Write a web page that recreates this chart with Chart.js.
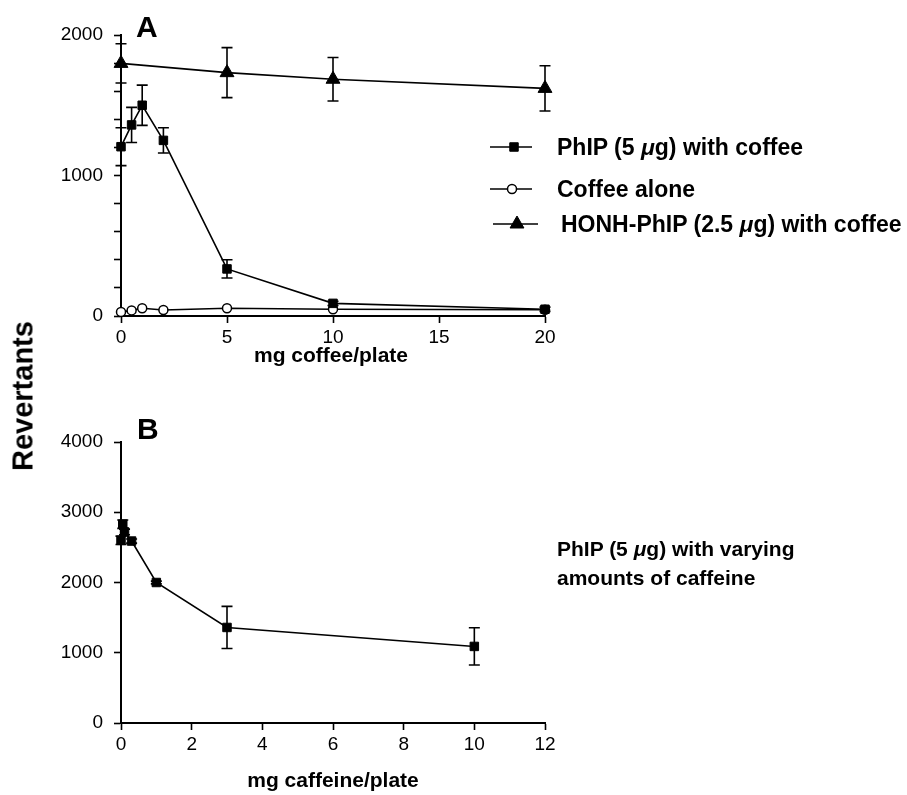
<!DOCTYPE html>
<html><head><meta charset="utf-8">
<script src="https://cdn.jsdelivr.net/npm/chart.js@4.4.0/dist/chart.umd.min.js"></script>
<style>
html,body{margin:0;padding:0;background:#fff;}
#wrap{position:relative;width:907px;height:795px;overflow:hidden;font-family:"Liberation Sans",Arial,Helvetica,sans-serif;color:#000;background:#fff;}
canvas{position:absolute;left:0;}
.t{position:absolute;font-weight:bold;white-space:nowrap;line-height:1;}
.c{transform:translate(-50%,-50%);}
</style></head><body>
<div id="wrap">
  <canvas id="cA" width="907" height="360" style="top:0;width:907px;height:360px"></canvas>
  <canvas id="cB" width="907" height="380" style="top:400px;width:907px;height:380px"></canvas>
  <div class="t" style="left:136px;top:12px;font-size:30px">A</div>
  <div class="t" style="left:137px;top:414px;font-size:30px">B</div>
  <div class="t" style="left:23px;top:396px;font-size:29px;transform:translate(-50%,-50%) rotate(-90deg)">Revertants</div>
  <div class="t c" style="left:331px;top:354px;font-size:21px">mg coffee/plate</div>
  <div class="t c" style="left:333px;top:779px;font-size:21px">mg caffeine/plate</div>
  <div class="t" style="left:557px;top:136px;font-size:23px">PhIP (5 <i>μ</i>g) with coffee</div>
  <div class="t" style="left:557px;top:178px;font-size:23px">Coffee alone</div>
  <div class="t" style="left:561px;top:213px;font-size:23px">HONH-PhIP (2.5 <i>μ</i>g) with coffee</div>
  <div class="t" style="left:557px;top:538px;font-size:21px">PhIP (5 <i>μ</i>g) with varying</div>
  <div class="t" style="left:557px;top:567px;font-size:21px">amounts of caffeine</div>
</div>
<script>
// ---- Data ----
const coffeeDose = [0, 0.5, 1, 2, 5, 10, 20];          // mg coffee/plate
const phipWithCoffee = [1205, 1360, 1500, 1250, 335, 90, 48];
const phipWithCoffeeErr = [135, 125, 143, 90, 65, 15, 15];
const coffeeAlone = [28, 40, 55, 43, 55, 48, 45];
const honhDose = [0, 5, 10, 20];
const honhWithCoffee = [1798, 1732, 1685, 1620];
const honhWithCoffeeErr = [140, 178, 155, 161];

const caffeineDose = [0, 0.05, 0.1, 0.3, 1, 3, 10];   // mg caffeine/plate
const phipWithCaffeine = [2600, 2830, 2720, 2590, 2000, 1360, 1090];
const phipWithCaffeineErr = [60, 60, 40, 30, 20, 300, 265];

const xTicksA = [0, 5, 10, 15, 20];
const yLabelsA = [0, 1000, 2000];
const xTicksB = [0, 2, 4, 6, 8, 10, 12];
const yTicksB = [0, 1000, 2000, 3000, 4000];

const legendLabels = ['PhIP (5 μg) with coffee', 'Coffee alone', 'HONH-PhIP (2.5 μg) with coffee'];

// ---- helpers ----
const pts = (xs, ys) => xs.map((x, i) => ({x: x, y: ys[i]}));
const TICK_FONT = {family: '"Liberation Sans", Arial, sans-serif', size: 19};

const errorBars = {
  id: 'errorBars',
  afterDatasetsDraw(chart) {
    const ctx = chart.ctx, xs = chart.scales.x, ys = chart.scales.y;
    chart.data.datasets.forEach((ds) => {
      if (!ds.errors) return;
      ctx.save();
      ctx.strokeStyle = '#000';
      ctx.lineWidth = 1.6;
      ds.data.forEach((p, j) => {
        const e = ds.errors[j];
        if (!e) return;
        const x = xs.getPixelForValue(p.x);
        const y1 = ys.getPixelForValue(p.y + e), y2 = ys.getPixelForValue(p.y - e);
        ctx.beginPath();
        ctx.moveTo(x, y1); ctx.lineTo(x, y2);
        ctx.moveTo(x - 5.5, y1); ctx.lineTo(x + 5.5, y1);
        ctx.moveTo(x - 5.5, y2); ctx.lineTo(x + 5.5, y2);
        ctx.stroke();
      });
      ctx.restore();
    });
  }
};

// legend symbols (line + marker) drawn next to the HTML legend texts
const legendRows = [{y: 147, x0: 490, x1: 532, xm: 514}, {y: 189, x0: 490, x1: 532, xm: 512}, {y: 224, x0: 493, x1: 538, xm: 517}];
const legendSymbols = {
  id: 'legendSymbols',
  afterDraw(chart) {
    const ctx = chart.ctx;
    chart.data.datasets.forEach((ds, i) => {
      const r = legendRows[i];
      ctx.save();
      ctx.strokeStyle = '#000';
      ctx.lineWidth = 1.6;
      ctx.beginPath(); ctx.moveTo(r.x0, r.y); ctx.lineTo(r.x1, r.y); ctx.stroke();
      const opts = {pointStyle: ds.pointStyle, radius: ds.pointRadius, borderWidth: ds.pointBorderWidth, rotation: 0};
      ctx.fillStyle = ds.pointBackgroundColor;
      ctx.strokeStyle = ds.pointBorderColor;
      ctx.lineWidth = ds.pointBorderWidth;
      Chart.helpers.drawPoint(ctx, opts, r.xm, r.y);
      ctx.restore();
    });
  }
};

function axisCommon(min, max, step, labelFn, fit) {
  return {
    type: 'linear', min: min, max: max,
    ticks: {stepSize: step, autoSkip: false, color: '#000', font: TICK_FONT, padding: 3, callback: labelFn, maxRotation: 0},
    grid: {display: true, drawOnChartArea: false, drawTicks: true, tickLength: 7, tickColor: '#000', tickWidth: 1.6},
    border: {display: true, color: '#000', width: 2},
    afterFit: fit
  };
}

const chartA = new Chart(document.getElementById('cA'), {
  type: 'line',
  data: {
    datasets: [
      {label: legendLabels[0], data: pts(coffeeDose, phipWithCoffee), errors: phipWithCoffeeErr,
       borderColor: '#000', borderWidth: 1.6, pointStyle: 'rect', pointRadius: 6, pointBackgroundColor: '#000', pointBorderColor: '#000', pointBorderWidth: 1, clip: false, tension: 0},
      {label: legendLabels[1], data: pts(coffeeDose, coffeeAlone),
       borderColor: '#000', borderWidth: 1.6, pointStyle: 'circle', pointRadius: 4.5, pointBackgroundColor: '#fff', pointBorderColor: '#000', pointBorderWidth: 1.5, clip: false, tension: 0},
      {label: legendLabels[2], data: pts(honhDose, honhWithCoffee), errors: honhWithCoffeeErr,
       borderColor: '#000', borderWidth: 1.6, pointStyle: 'triangle', pointRadius: 8, pointBackgroundColor: '#000', pointBorderColor: '#000', pointBorderWidth: 1, clip: false, tension: 0}
    ]
  },
  options: {
    responsive: false, animation: false, devicePixelRatio: 1,
    layout: {padding: {left: 0, right: 362, top: 35, bottom: 0}},
    plugins: {legend: {display: false}, tooltip: {enabled: false}},
    scales: {
      x: axisCommon(0, 20, 5, (v) => xTicksA.includes(v) ? String(v) : '', (s) => { s.height = 44; }),
      y: (() => { const a = axisCommon(0, 2000, 200, (v) => yLabelsA.includes(v) ? String(v) : '', (s) => { s.width = 121; }); a.ticks.padding = 11; return a; })()
    }
  },
  plugins: [errorBars, legendSymbols]
});

const chartB = new Chart(document.getElementById('cB'), {
  type: 'line',
  data: {
    datasets: [
      {label: 'PhIP (5 μg) with varying amounts of caffeine', data: pts(caffeineDose, phipWithCaffeine), errors: phipWithCaffeineErr,
       borderColor: '#000', borderWidth: 1.6, pointStyle: 'rect', pointRadius: 6, pointBackgroundColor: '#000', pointBorderColor: '#000', pointBorderWidth: 1, clip: false, tension: 0}
    ]
  },
  options: {
    responsive: false, animation: false, devicePixelRatio: 1,
    layout: {padding: {left: 0, right: 362, top: 42, bottom: 0}},
    plugins: {legend: {display: false}, tooltip: {enabled: false}},
    scales: {
      x: axisCommon(0, 12, 2, (v) => xTicksB.includes(v) ? String(v) : '', (s) => { s.height = 57; }),
      y: (() => { const a = axisCommon(0, 4000, 1000, (v) => yTicksB.includes(v) ? String(v) : '', (s) => { s.width = 121; }); a.ticks.padding = 11; return a; })()
    }
  },
  plugins: [errorBars]
});
</script>
</body></html>
